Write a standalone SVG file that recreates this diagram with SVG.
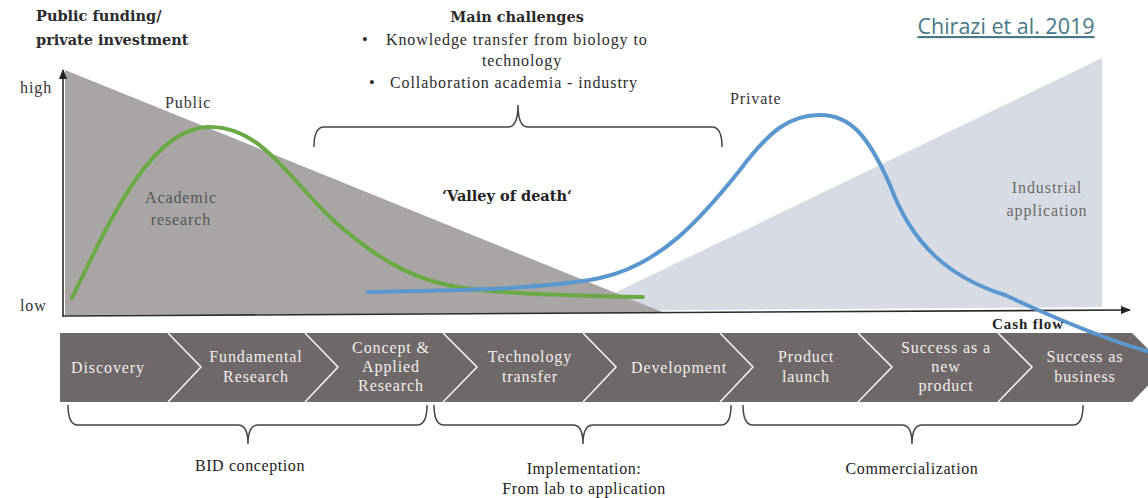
<svg xmlns="http://www.w3.org/2000/svg" width="1148" height="498" viewBox="0 0 1148 498">
<defs>
<marker id="arr" markerWidth="10" markerHeight="8" refX="9" refY="4" orient="auto" markerUnits="userSpaceOnUse">
<path d="M0,0 L10,4 L0,8 z" fill="#222"/>
</marker>
<style>
.t{font-family:"Liberation Serif","DejaVu Serif",serif;letter-spacing:0.9px;}
.b{font-family:"DejaVu Serif","Liberation Serif",serif;font-weight:bold;letter-spacing:0;}
.dark{fill:#2b2b2b;}
.lab{font-size:16px;fill:#333;}
.chev{font-size:16px;fill:#f2eeea;text-anchor:middle;}
.sep{fill:none;stroke:#f4f2f0;stroke-width:1.6;}
.brace{fill:none;stroke:#444;stroke-width:1.5;}
.axis{fill:none;stroke:#2a2a2a;stroke-width:1.6;}
.bot{font-size:16px;fill:#222;text-anchor:middle;letter-spacing:0.6px;}
</style>
</defs>
<rect width="1148" height="498" fill="#ffffff"/>

<g id="areas">
<polygon points="577,311 1102,58 1102,307" fill="#d6dbe4"/>
<polygon points="65,70 665,313 65,315" fill="#a9a5a5"/>
</g>

<g id="axes">
<line class="axis" x1="63" y1="317" x2="63" y2="70" marker-end="url(#arr)"/>
<line class="axis" x1="63" y1="316" x2="1130" y2="310" marker-end="url(#arr)"/>
</g>

<g id="titles">
<text class="b dark" x="36" y="21" font-size="14.5">Public funding/</text>
<text class="b dark" x="36" y="45" font-size="14.5">private investment</text>
<text class="t lab" x="20" y="93">high</text>
<text class="t lab" x="20" y="311">low</text>
<text class="t lab" x="165" y="108">Public</text>
<text class="t lab" x="730" y="104">Private</text>
<text x="1006" y="34" font-family="'Open Sans','Noto Sans',sans-serif" font-size="21.5" fill="#467886" text-anchor="middle" text-decoration="underline">Chirazi et al. 2019</text>
</g>

<g id="challenges">
<text class="b dark" x="517" y="22" font-size="14.5" text-anchor="middle">Main challenges</text>
<text class="t dark" x="362" y="45" font-size="16">•</text>
<text class="t dark" x="386" y="45" font-size="16">Knowledge transfer from biology to</text>
<text class="t dark" x="522" y="66" font-size="16" text-anchor="middle">technology</text>
<text class="t dark" x="369" y="88" font-size="16">•</text>
<text class="t dark" x="390" y="88" font-size="16">Collaboration academia - industry</text>
<path class="brace" d="M314,147 Q314,127 324,127 L508,127 Q518,127 518,105 Q518,127 528,127 L712,127 Q722,127 722,147"/>
</g>

<g id="area-labels">
<text class="t" font-size="16" fill="#555" text-anchor="middle"><tspan x="181" y="203">Academic</tspan><tspan x="181" y="225">research</tspan></text>
<text class="b" font-size="14.5" fill="#222" x="507" y="201" text-anchor="middle">‘Valley of death‘</text>
<text class="t" font-size="16" fill="#6b6b6b" text-anchor="middle"><tspan x="1047" y="193">Industrial</tspan><tspan x="1047" y="216">application</tspan></text>
</g>

<g id="chevrons">
<polygon points="60,333 1132,333 1166,367 1132,402 60,402" fill="#6f6868"/>
<polyline class="sep" points="168,333 201,367 168,402"/>
<polyline class="sep" points="305,333 338,367 305,402"/>
<polyline class="sep" points="443,333 477,367 443,402"/>
<polyline class="sep" points="583,333 616,367 583,402"/>
<polyline class="sep" points="720,333 753,367 720,402"/>
<polyline class="sep" points="858,333 892,367 858,402"/>
<polyline class="sep" points="998,333 1032,367 998,402"/>
<text class="t chev" x="108" y="373">Discovery</text>
<text class="t chev"><tspan x="256" y="362">Fundamental</tspan><tspan x="256" y="382">Research</tspan></text>
<text class="t chev"><tspan x="391" y="353">Concept &amp;</tspan><tspan x="391" y="372">Applied</tspan><tspan x="391" y="391">Research</tspan></text>
<text class="t chev"><tspan x="530" y="362">Technology</tspan><tspan x="530" y="382">transfer</tspan></text>
<text class="t chev" x="679" y="373">Development</text>
<text class="t chev"><tspan x="806" y="362">Product</tspan><tspan x="806" y="382">launch</tspan></text>
<text class="t chev"><tspan x="946" y="353">Success as a</tspan><tspan x="946" y="372">new</tspan><tspan x="946" y="391">product</tspan></text>
<text class="t chev"><tspan x="1085" y="362">Success as</tspan><tspan x="1085" y="382">business</tspan></text>
</g>

<g id="curves">
<path d="M72,298 C110,220 150,130 207,127 C260,124 290,180 333,220 C380,262 420,285 480,290 C540,296 600,296 643,297" fill="none" stroke="#6aaa45" stroke-width="4" stroke-linecap="round"/>
<path d="M368,292 C450,290 540,290 600,278 C660,265 700,220 740,170 C770,130 790,115 820,115 C850,115 868,135 890,185 C912,245 950,278 1005,295 C1050,316 1100,338 1150,352" fill="none" stroke="#5b97cf" stroke-width="4" stroke-linecap="round"/>
<text class="t" x="1028" y="329" font-size="15" fill="#1e1e1e" text-anchor="middle" letter-spacing="0.2" font-weight="bold">Cash flow</text>
</g>

<g id="phases">
<path class="brace" d="M68,405 Q68,425 78,425 L238,425 Q248,425 248,444 Q248,425 258,425 L417,425 Q427,425 427,405"/>
<path class="brace" d="M434,405 Q434,425 444,425 L573,425 Q583,425 583,444 Q583,425 593,425 L721,425 Q731,425 731,405"/>
<path class="brace" d="M743,405 Q743,425 753,425 L902,425 Q912,425 912,444 Q912,425 922,425 L1073,425 Q1083,425 1083,405"/>
<text class="t bot" x="250" y="471">BID conception</text>
<text class="t bot"><tspan x="584" y="474">Implementation:</tspan><tspan x="584" y="494">From lab to application</tspan></text>
<text class="t bot" x="912" y="474">Commercialization</text>
</g>
</svg>
